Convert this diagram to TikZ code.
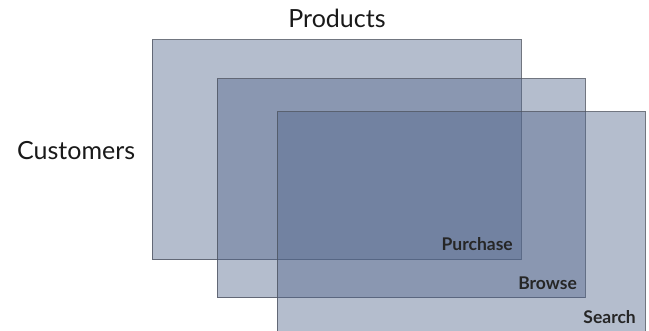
\documentclass[tikz,border=0pt]{standalone}
\usepackage{fontspec}
\setmainfont{Lato}
\begin{document}
\begin{tikzpicture}[x=1pt,y=-1pt,
  layer/.style={draw=layerline, line width=1pt, draw opacity=0.8, fill=layerfill, fill opacity=0.43},
  biglabel/.style={font=\fontsize{25}{27}\selectfont, text=black!90, inner sep=0pt},
  smalllabel/.style={font=\fontsize{17.5}{19}\selectfont\bfseries, text=black!85, inner sep=0pt, anchor=south east}]
\definecolor{layerfill}{RGB}{82,102,140}
\definecolor{layerline}{RGB}{78,84,96}
\useasboundingbox (0,0) rectangle (649,331);
\clip (0,0) rectangle (649,331);
\path[layer] (152,40) rectangle (521,260);
\path[layer] (217,79) rectangle (585,298);
\path[layer] (277,112) rectangle (645,345);
\node[smalllabel] (purchase) at (513,251) {Purchase};
\node[smalllabel] (browse) at (577,290) {Browse};
\node[smalllabel] (search) at (636,324) {Search};
\node[biglabel, anchor=base] (products) at (337,28) {Products};
\node[biglabel, anchor=base west] (customers) at (17,160) {Customers};
\end{tikzpicture}
\end{document}
